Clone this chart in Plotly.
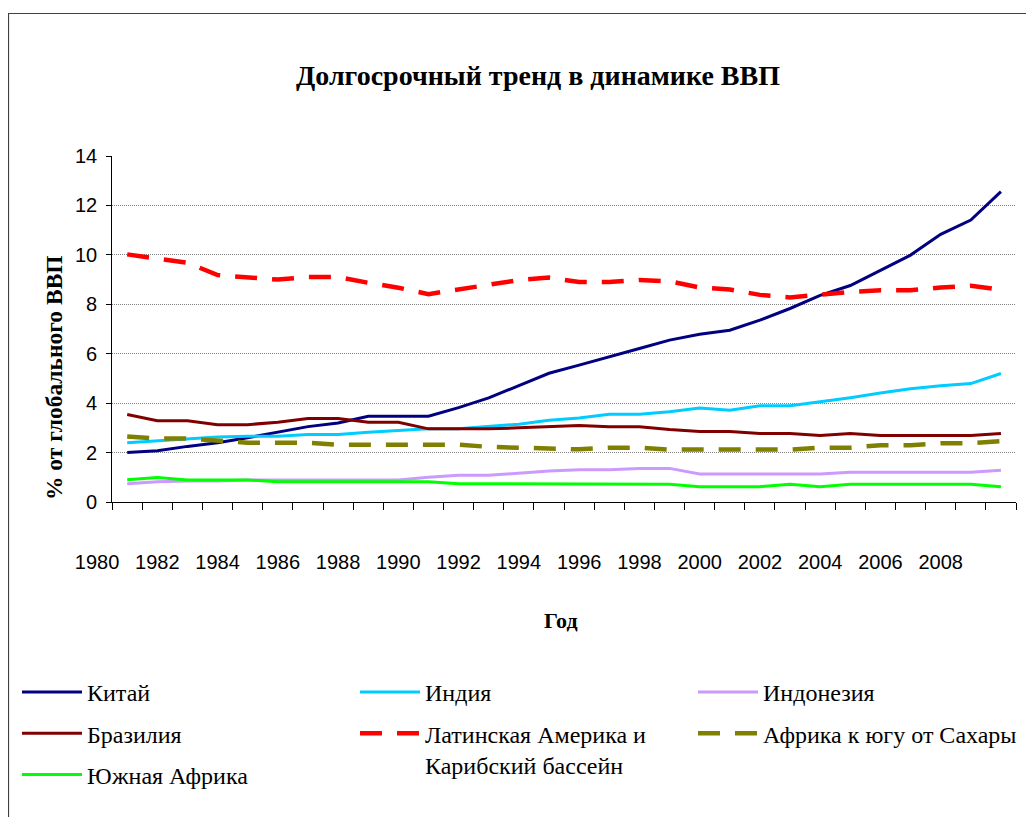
import plotly.graph_objects as go

years = [1980, 1981, 1982, 1983, 1984, 1985, 1986, 1987, 1988, 1989,
         1990, 1991, 1992, 1993, 1994, 1995, 1996, 1997, 1998, 1999,
         2000, 2001, 2002, 2003, 2004, 2005, 2006, 2007, 2008, 2009]
x_tick_labels = ["1980", "1982", "1984", "1986", "1988", "1990", "1992", "1994",
                 "1996", "1998", "2000", "2002", "2004", "2006", "2008"]

china = [2.0, 2.07, 2.25, 2.4, 2.6, 2.83, 3.05, 3.2, 3.47, 3.47,
         3.47, 3.82, 4.21, 4.71, 5.21, 5.54, 5.89, 6.21, 6.55, 6.79,
         6.95, 7.36, 7.83, 8.36, 8.76, 9.36, 9.99, 10.83, 11.41, 12.56]
india = [2.4, 2.47, 2.57, 2.63, 2.66, 2.66, 2.73, 2.73, 2.82, 2.9,
         2.96, 2.96, 3.04, 3.15, 3.31, 3.4, 3.55, 3.55, 3.65, 3.8,
         3.71, 3.89, 3.89, 4.05, 4.22, 4.41, 4.58, 4.7, 4.79, 5.2]
indonesia = [0.74, 0.82, 0.85, 0.85, 0.89, 0.89, 0.89, 0.89, 0.89, 0.89,
             1.0, 1.08, 1.08, 1.17, 1.25, 1.3, 1.3, 1.36, 1.36, 1.13,
             1.13, 1.13, 1.13, 1.13, 1.2, 1.2, 1.2, 1.2, 1.2, 1.28]
brazil = [3.54, 3.29, 3.29, 3.13, 3.13, 3.23, 3.38, 3.38, 3.23, 3.23,
          2.96, 2.96, 2.96, 3.0, 3.05, 3.1, 3.04, 3.04, 2.93, 2.85,
          2.85, 2.77, 2.77, 2.69, 2.77, 2.69, 2.69, 2.69, 2.69, 2.77]
latam = [10.02, 9.86, 9.68, 9.18, 9.1, 9.0, 9.1, 9.1, 8.87, 8.67,
         8.41, 8.61, 8.82, 8.98, 9.08, 8.9, 8.9, 8.98, 8.93, 8.68,
         8.6, 8.38, 8.28, 8.41, 8.5, 8.57, 8.57, 8.68, 8.75, 8.59]
ssa = [2.65, 2.57, 2.57, 2.47, 2.4, 2.4, 2.4, 2.32, 2.32, 2.32,
       2.32, 2.32, 2.23, 2.2, 2.15, 2.13, 2.2, 2.2, 2.12, 2.12,
       2.12, 2.12, 2.12, 2.2, 2.2, 2.3, 2.3, 2.38, 2.38, 2.46]
south_africa = [0.9, 0.99, 0.89, 0.89, 0.89, 0.82, 0.82, 0.82, 0.82, 0.82,
                0.82, 0.74, 0.74, 0.74, 0.73, 0.72, 0.72, 0.72, 0.72, 0.62,
                0.62, 0.62, 0.72, 0.62, 0.72, 0.72, 0.72, 0.72, 0.72, 0.62]

series = [
    ("Китай", china, "#000080", "solid", 3, "legend"),
    ("Индия", india, "#00CCFF", "solid", 3, "legend2"),
    ("Индонезия", indonesia, "#CC99FF", "solid", 3, "legend3"),
    ("Бразилия", brazil, "#800000", "solid", 3, "legend"),
    ("Латинская Америка и<br>Карибский бассейн", latam, "#FF0000", "22px,15px", 4.5, "legend2"),
    ("Африка к югу от Сахары", ssa, "#808000", "22px,15px", 4.5, "legend3"),
    ("Южная Африка", south_africa, "#00FF00", "solid", 3, "legend"),
]

fig = go.Figure()
for i, (name, vals, color, dash, width, leg) in enumerate(series):
    fig.add_trace(go.Scatter(
        x=years, y=vals, name=name, mode="lines",
        line=dict(color=color, dash=dash, width=width),
        legend=leg, legendgroup=f"g{i}",
    ))

# invisible carrier trace so the label axis (x2) is drawn
fig.add_trace(go.Scatter(
    x=[int(s) for s in x_tick_labels], y=[None] * len(x_tick_labels),
    xaxis="x2", yaxis="y2", mode="lines", showlegend=False, hoverinfo="skip",
))

serif = "Liberation Serif, Times New Roman, serif"
sans = "Liberation Sans, Arial, sans-serif"

OFF = 8  # page body margin
W, H = 1034, 817
L = 82 - OFF
R = W - (1016 - OFF)
T = 156 - OFF
B = H - (502 - OFF)
pw = W - L - R
ph = H - T - B
cat_w = (1016 - 112) / 30.0

def px_x(p):
    return (p - OFF - L) / pw

def px_y(p):
    return (H - B - (p - OFF)) / ph

legend_common = dict(
    font=dict(family=serif, size=24, color="black"),
    itemwidth=60, traceorder="grouped", tracegroupgap=7,
    orientation="v", xref="paper", yref="paper",
    xanchor="left", yanchor="top", valign="top",
    bgcolor="rgba(0,0,0,0)", borderwidth=0,
)

fig.update_layout(
    width=W, height=H,
    margin=dict(l=L, r=R, t=T, b=B, pad=0, autoexpand=False),
    paper_bgcolor="white", plot_bgcolor="rgba(0,0,0,0)",
    title=dict(text="<b>Долгосрочный тренд в динамике ВВП</b>",
               font=dict(family=serif, size=28, color="black"),
               x=(538 - OFF) / W, xref="container", xanchor="center",
               y=1 - (75 - OFF) / H, yref="container", yanchor="middle"),
    xaxis=dict(domain=[cat_w / pw, 1], range=[1979.5, 2009.5],
               showline=True, linecolor="black", linewidth=1,
               ticks="outside", ticklen=7, tickcolor="black", tickwidth=1,
               tick0=1979.5, dtick=1, showticklabels=False,
               showgrid=False, zeroline=False),
    xaxis2=dict(domain=[0, 1], anchor="y2", range=[1979.5, 2010.5],
                tickmode="array", tickvals=[int(s) for s in x_tick_labels],
                ticktext=x_tick_labels, showline=False, ticks="",
                showgrid=False, zeroline=False, side="bottom",
                tickfont=dict(family=sans, size=20, color="black"),
                ticklabelstandoff=46),
    yaxis2=dict(domain=[0, 1], range=[0, 14], anchor="x2",
                showgrid=False, showline=False, ticks="", showticklabels=False,
                zeroline=False),
    yaxis=dict(range=[0, 14], dtick=2, anchor="x",
               showline=True, linecolor="black", linewidth=1,
               ticks="outside", ticklen=5, tickcolor="black",
               showgrid=True, gridcolor="#808080", gridwidth=1, griddash="1px,1px",
               zeroline=False,
               tickfont=dict(family=sans, size=20, color="black"),
               ticklabelstandoff=5),
    legend=dict(x=px_x(17), y=px_y(670), **legend_common),
    legend2=dict(x=px_x(355), y=px_y(670), **legend_common),
    legend3=dict(x=px_x(693), y=px_y(670), **legend_common),
    showlegend=True,
)

fig.add_annotation(text="<b>Год</b>", xref="paper", yref="paper",
                   x=px_x(561), y=px_y(620), showarrow=False,
                   font=dict(family=serif, size=22, color="black"),
                   xanchor="center", yanchor="middle")
fig.add_annotation(text="<b>% от глобального ВВП</b>", xref="paper", yref="paper",
                   x=px_x(54), y=px_y(378), showarrow=False, textangle=-90,
                   font=dict(family=serif, size=23.5, color="black"),
                   xanchor="center", yanchor="middle")

fig.add_shape(type="rect", xref="paper", yref="paper",
              x0=px_x(8.5), x1=px_x(1060), y0=px_y(840), y1=px_y(13.5),
              line=dict(color="#404040", width=1.2), fillcolor="rgba(0,0,0,0)",
              layer="below")

fig.write_html("out.html")
